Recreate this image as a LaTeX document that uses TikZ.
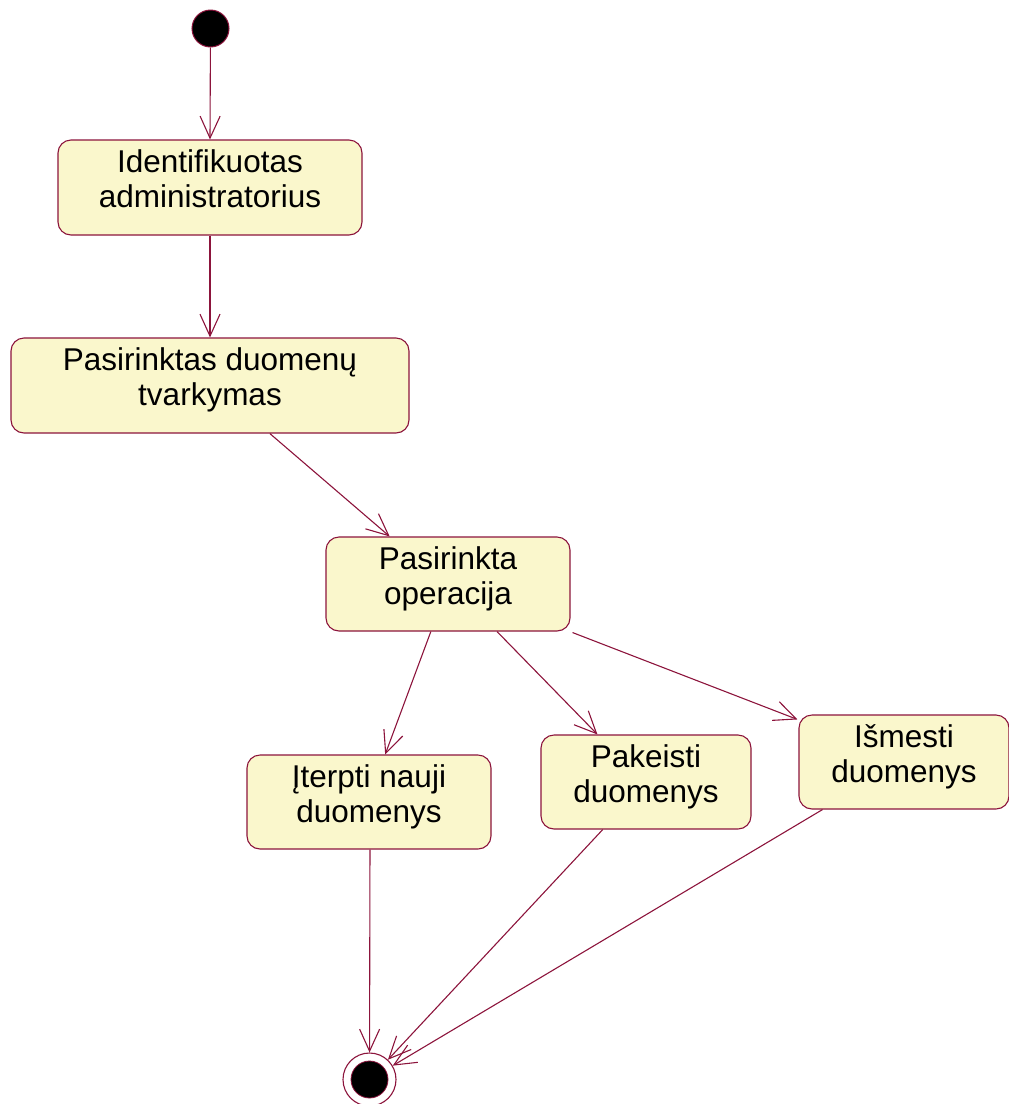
\documentclass[tikz,border=0pt]{standalone}
\usepackage{fontspec}
\setmainfont{Liberation Sans}
\usetikzlibrary{arrows.meta,calc}
\definecolor{edge}{RGB}{140,20,60}
\definecolor{statefill}{RGB}{250,247,204}
\begin{document}
\begin{tikzpicture}[x=1pt,y=-1pt,
  activity/.style={draw=edge, fill=statefill, line width=1.1pt, rounded corners=13pt,
    inner sep=0pt, align=center, font=\fontsize{31.5}{35}\selectfont},
  flow/.style={draw=edge, line width=1.1pt, -{Straight Barb[length=22pt,width=20pt,line width=1.1pt]}},
  startdot/.style={circle, draw=edge, fill=black, line width=1pt, minimum size=37pt, inner sep=0pt},
  endring/.style={circle, draw=edge, fill=white, line width=1.1pt, minimum size=53pt, inner sep=0pt},
  enddot/.style={circle, draw=edge, fill=black, line width=0.8pt, minimum size=37pt, inner sep=0pt}]
\useasboundingbox (0,0) rectangle (1009,1104);

% initial and final states
\node[startdot] (start) at (210.5,28.5) {};
\node[endring] (finish) at (369.5,1079.5) {};
\node[enddot] (finishdot) at (finish.center) {};

% activities (the short trailing line lifts the text slightly above centre)
\node[activity, minimum width=304pt, minimum height=95pt] (ident) at (210,187.5)
  {Identifikuotas\\administratorius\\[-18pt]};
\node[activity, minimum width=398pt, minimum height=95pt] (tvark) at (210,385.5)
  {Pasirinktas duomenų\\tvarkymas\\[-18pt]};
\node[activity, minimum width=244pt, minimum height=94pt] (oper) at (448,584)
  {Pasirinkta\\operacija\\[-18pt]};
\node[activity, minimum width=244pt, minimum height=94pt] (iterp) at (369,802)
  {Įterpti nauji\\duomenys\\[-18pt]};
\node[activity, minimum width=210pt, minimum height=94pt] (keist) at (646,782)
  {Pakeisti\\duomenys\\[-18pt]};
\node[activity, minimum width=210pt, minimum height=94pt] (ismest) at (904,762)
  {Išmesti\\duomenys\\[-18pt]};

% transitions
\draw[flow] (start) -- (ident.north);
\draw[flow] (ident.south) -- (tvark.north);
\draw[flow] ($(tvark.south west)!0.65!(tvark.south east)$) -- ($(oper.north west)!0.262!(oper.north east)$);
\draw[flow] ($(oper.south west)!0.43!(oper.south east)$) -- ($(iterp.north west)!0.566!(iterp.north east)$);
\draw[flow] ($(oper.south west)!0.70!(oper.south east)$) -- ($(keist.north west)!0.27!(keist.north east)$);
\draw[flow] ($(oper.south east)+(2,1)$) -- ($(ismest.north west)+(-1,5)$);
\draw[flow] ($(iterp.south west)!0.504!(iterp.south east)$) -- (finish);
\draw[flow] ($(keist.south west)!0.295!(keist.south east)$) -- (finish);
\draw[flow] ($(ismest.south west)!0.114!(ismest.south east)$) -- (finish);
\end{tikzpicture}
\end{document}
